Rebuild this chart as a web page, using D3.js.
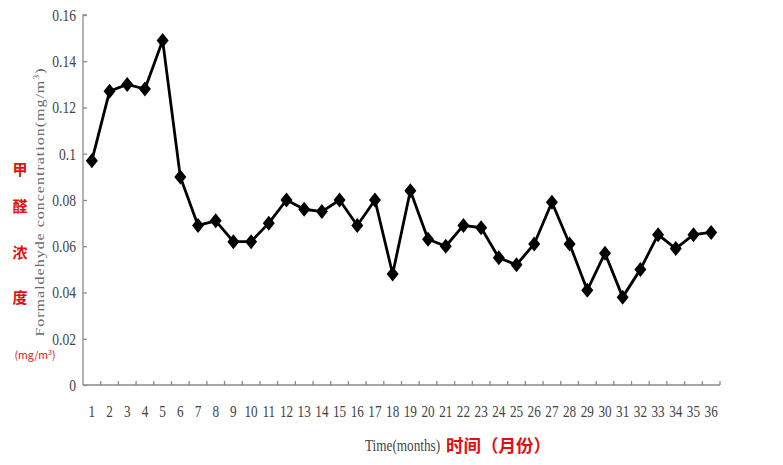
<!DOCTYPE html>
<html><head><meta charset="utf-8">
<script src="https://cdn.jsdelivr.net/npm/d3@7"></script>
<style>body{margin:0;background:#fff}svg{display:block}</style>
</head><body>
<script>
const months = d3.range(1, 37).map(String);
const concentration = [0.097,0.127,0.130,0.128,0.149,0.090,0.069,0.071,0.062,0.062,0.070,0.080,0.076,0.075,0.080,0.069,0.080,0.048,0.084,0.063,0.060,0.069,0.068,0.055,0.052,0.061,0.079,0.061,0.041,0.057,0.038,0.050,0.065,0.059,0.065,0.066];
const yTicks = [0,0.02,0.04,0.06,0.08,0.1,0.12,0.14,0.16];
const yTickLabels = ["0","0.02","0.04","0.06","0.08","0.1","0.12","0.14","0.16"];
const redLabelChars = ["甲","醛","浓","度"];

const W=783,H=465;
const svg=d3.select("body").append("svg").attr("width",W).attr("height",H);
const x=d3.scaleBand().domain(months).range([83,720]);
const y=d3.scaleLinear().domain([0,0.16]).range([385,15]);
const serif="'Liberation Serif','Times New Roman',serif";
const axisCol="#8a8a8a";
const SX=0.8;

// y axis
const ya=svg.append("g").attr("transform","translate(83,0)")
 .call(d3.axisRight(y).tickValues(yTicks).tickSize(4).tickFormat(""));
ya.selectAll("path,line").attr("stroke",axisCol).attr("stroke-width",1.3);
ya.select(".domain").attr("d","M0,"+y(0)+"V"+y(0.16)+"h4");
svg.append("g").selectAll("text").data(yTicks).join("text")
 .attr("transform",d=>`translate(76,${y(d)}) scale(${SX},1)`).attr("dy","0.35em").attr("text-anchor","end")
 .attr("font-family",serif).attr("font-size",17).attr("fill","#444")
 .text((d,i)=>yTickLabels[i]);

// x axis
const bounds=d3.range(1,37).map(i=>83+x.step()*i);
svg.append("line").attr("x1",83).attr("x2",720).attr("y1",385).attr("y2",385).attr("stroke",axisCol).attr("stroke-width",1.3);
svg.append("g").selectAll("line").data(bounds).join("line")
 .attr("x1",d=>d).attr("x2",d=>d).attr("y1",385).attr("y2",381).attr("stroke",axisCol).attr("stroke-width",1.3);
svg.append("g").selectAll("text").data(months).join("text")
 .attr("transform",d=>`translate(${x(d)+x.bandwidth()/2},417) scale(${SX},1)`).attr("text-anchor","middle")
 .attr("font-family",serif).attr("font-size",16.5).attr("fill","#444").text(d=>d);

// line
const line=d3.line().x((d,i)=>x(months[i])+x.bandwidth()/2).y(d=>y(d));
svg.append("path").datum(concentration).attr("d",line).attr("fill","none").attr("stroke","#000").attr("stroke-width",2.8).attr("stroke-linejoin","round");
svg.append("g").selectAll("path").data(concentration).join("path")
 .attr("transform",(d,i)=>`translate(${x(months[i])+x.bandwidth()/2},${y(d)})`)
 .attr("d","M0,-7.5L6,0L0,7.5L-6,0Z").attr("fill","#000");

// y title
svg.append("text").attr("transform",`translate(44,202) scale(${SX},1) rotate(-90)`)
 .attr("text-anchor","middle").attr("font-family",serif).attr("font-size",16)
 .attr("letter-spacing","1px").attr("fill","#6a6a6a")
 .html('Formaldehyde concentration(mg/m<tspan dy="-6" font-size="10">3</tspan><tspan dy="6">)</tspan>');

// red chinese y label
svg.append("g").selectAll("text").data(redLabelChars).join("text")
 .attr("x",20).attr("y",(d,i)=>[170,207,253,298][i]).attr("dy","0.35em").attr("text-anchor","middle")
 .attr("font-family","'Noto Sans CJK SC',sans-serif").attr("font-weight","bold").attr("font-size",15).attr("fill","#e01010").text(d=>d);
svg.append("text").attr("x",35).attr("y",359).attr("text-anchor","middle")
 .attr("font-family","'Noto Sans CJK SC',sans-serif").attr("font-size",10.5).attr("fill","#e01010")
 .html('(mg/m<tspan dy="-4" font-size="7">3</tspan><tspan dy="4">)</tspan>');

// x titles
svg.append("text").attr("transform",`translate(365,451) scale(${SX},1)`).attr("font-family",serif).attr("font-size",16.5).attr("fill","#444").text("Time(months)");
svg.append("text").attr("x",446).attr("y",452).attr("font-family","'Noto Sans CJK SC',sans-serif").attr("font-weight","bold").attr("font-size",17.5).attr("fill","#e01010").text("时间（月份）");
</script>
</body></html>
